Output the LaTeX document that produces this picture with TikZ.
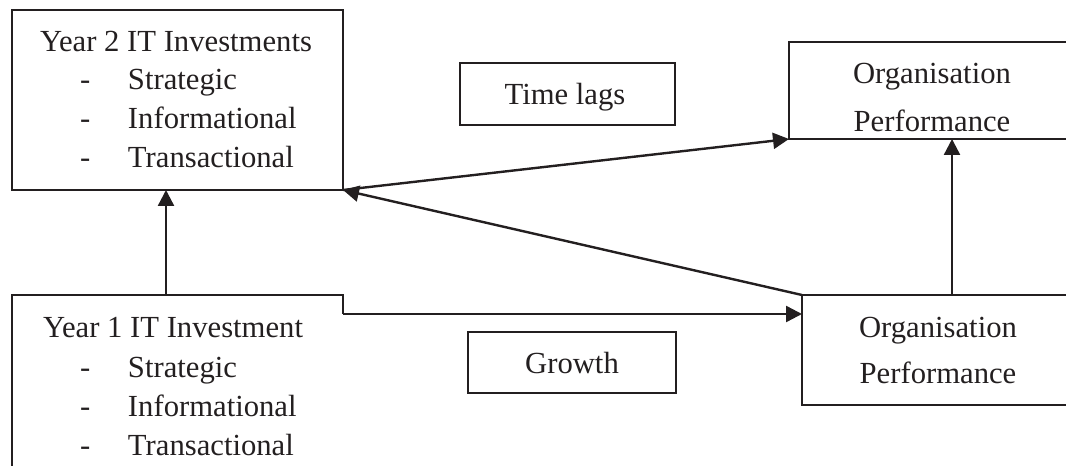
\documentclass[tikz,border=0pt]{standalone}
\usepackage{fontspec}
\setmainfont{Liberation Serif}
\usetikzlibrary{arrows.meta}
\definecolor{ink}{RGB}{35,31,32}
\begin{document}
\begin{tikzpicture}[x=0.75pt,y=-0.75pt,
  box/.style={draw=ink, line width=1.7pt, inner sep=0pt, outer sep=0pt, anchor=north west},
  frame/.style={inner sep=0pt, outer sep=0pt, anchor=north west},
  txt/.style={text=ink, font=\fontsize{23}{28}\selectfont, inner sep=0pt, outer sep=0pt},
  item/.style={txt, anchor=base west},
  arr/.style={draw=ink, line width=1.8pt, -{Triangle[length=12pt,width=12pt]}}]
\useasboundingbox (0,0) rectangle (1066,466);
\clip (0,0) rectangle (1066,466);

% boxes
\node[box, minimum width=248.25pt, minimum height=135pt] (y2) at (12,10) {};
\node[frame, minimum width=248.25pt, minimum height=138.75pt] (y1) at (12,295) {};
\draw[ink, line width=1.7pt] ([yshift=-14.25pt]y1.north east) -- (y1.north east) -- (y1.north west) -- (y1.south west);
\node[box, minimum width=218.25pt, minimum height=72.75pt] (ot) at (789,42) {};
\node[box, minimum width=208.5pt, minimum height=82.5pt] (ob) at (802,295) {};
\node[box, minimum width=161.25pt, minimum height=46.5pt] (lag) at (460,63) {};
\node[box, minimum width=156pt, minimum height=45.75pt] (gro) at (468,332) {};

% texts
\node[txt, anchor=base west] (y2a) at (40,52) {Year 2 IT Investments};
\node[item] (y2b) at (80,90)  {\makebox[36pt][l]{-}Strategic};
\node[item] (y2c) at (80,129) {\makebox[36pt][l]{-}Informational};
\node[item] (y2d) at (80,168) {\makebox[36pt][l]{-}Transactional};

\node[txt, anchor=base west] (y1a) at (43,337) {Year 1 IT Investment};
\node[item] (y1b) at (80,377) {\makebox[36pt][l]{-}Strategic};
\node[item] (y1c) at (80,416) {\makebox[36pt][l]{-}Informational};
\node[item] (y1d) at (80,455) {\makebox[36pt][l]{-}Transactional};

\node[txt, anchor=base] (ota) at (932,84)  {Organisation};
\node[txt, anchor=base] (otb) at (932,132) {Performance};
\node[txt, anchor=base] (oba) at (938,337) {Organisation};
\node[txt, anchor=base] (obb) at (938,383) {Performance};

\node[txt, anchor=base] (lagt) at (565,105) {Time lags};
\node[txt, anchor=base] (grot) at (572,373) {Growth};

% connectors
\coordinate (xa) at (166,0);
\coordinate (xb) at (952,0);
\coordinate (ya) at (0,314);
\draw[arr] (y1.north -| xa) -- (y2.south -| xa);
\draw[arr] (y1.north east |- ya) -- (ob.west |- ya);
\draw[arr] (ob.north -| xb) -- (ot.south -| xb);
\draw[arr] (y2.south east) -- (ot.south west);
\draw[arr] (ob.north west) -- (y2.south east);
\end{tikzpicture}
\end{document}
